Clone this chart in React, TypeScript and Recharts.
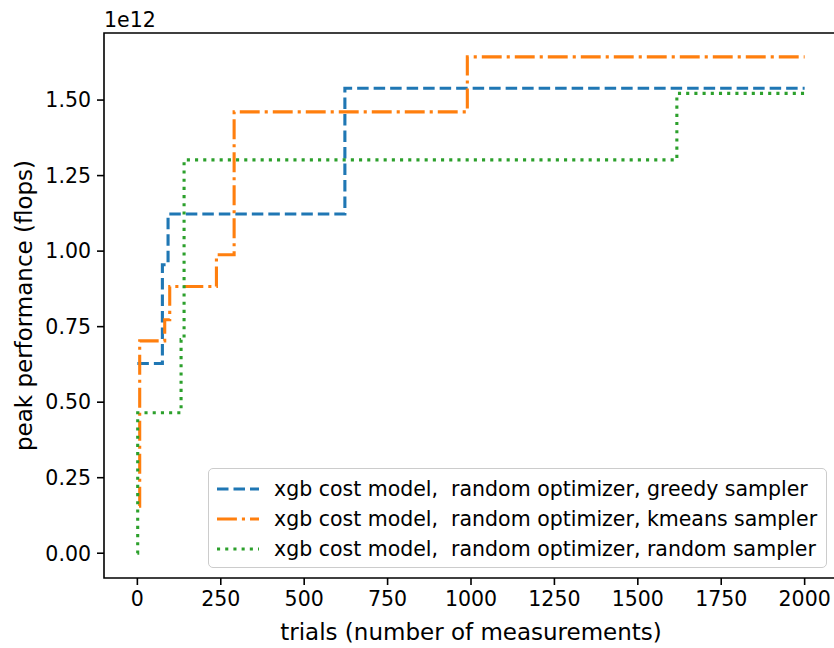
import React from 'react';
import { LineChart, Line, XAxis, YAxis, Legend, Label, ReferenceArea } from 'recharts';

// values, peak performance in units of 1e12 flops
const trialsGreedy = [0, 75, 92, 622, 2000];
const peakGreedy = [0.628, 0.955, 1.123, 1.539, 1.539];

const trialsKmeans = [5, 7, 82, 97, 237, 290, 989, 2000];
const peakKmeans = [0.156, 0.703, 0.773, 0.883, 0.988, 1.461, 1.643, 1.643];

const trialsRandom = [0, 1, 131, 140, 1617, 2000];
const peakRandom = [0, 0.465, 0.707, 1.302, 1.522, 1.522];

const xTicks = [0, 250, 500, 750, 1000, 1250, 1500, 1750, 2000];
const yTicks = [0, 0.25, 0.5, 0.75, 1.0, 1.25, 1.5];

const seriesNames = [
  'xgb cost model,  random optimizer, greedy sampler',
  'xgb cost model,  random optimizer, kmeans sampler',
  'xgb cost model,  random optimizer, random sampler',
];

const toPoints = (xs: number[], ys: number[]) => xs.map((x, i) => ({ x, y: ys[i] }));

const FONT = '"DejaVu Sans", sans-serif';
const LW = 3.1;
const CHART_W = 840;
const MARGIN = { top: 33, right: 2, bottom: 0, left: 0 };
const Y_AXIS_W = 104;

const series = [
  { name: seriesNames[0], data: toPoints(trialsGreedy, peakGreedy), color: '#1f77b4', dash: '11.5 5' },
  { name: seriesNames[1], data: toPoints(trialsKmeans, peakKmeans), color: '#ff7f0e', dash: '19.9 5 3.1 5' },
  { name: seriesNames[2], data: toPoints(trialsRandom, peakRandom), color: '#2ca02c', dash: '3.1 5.1' },
];

const X_DOMAIN: [number, number] = [-100, 2100];
const Y_DOMAIN: [number, number] = [-0.082, 1.722];

const renderLegend = () => (
  <div
    style={{
      boxSizing: 'border-box',
      width: 619,
      height: 100,
      padding: '5px 0',
      border: '1.5px solid #cccccc',
      borderRadius: 5,
      background: 'rgba(255,255,255,0.8)',
      fontFamily: FONT,
      fontSize: 20.5,
      color: '#000',
    }}
  >
    {series.map((s) => (
      <div key={s.name} style={{ height: 30, display: 'flex', alignItems: 'center' }}>
        <svg width={42} height={10} style={{ marginLeft: 8, marginRight: 15 }}>
          <line x1={0} y1={5} x2={42} y2={5} stroke={s.color} strokeWidth={LW} strokeDasharray={s.dash} />
        </svg>
        <span style={{ whiteSpace: 'pre', lineHeight: '30px' }}>{s.name}</span>
      </div>
    ))}
  </div>
);

export default function App() {
  // horizontal centre of the plotting area
  const plotCenterX = (MARGIN.left + Y_AXIS_W + CHART_W - MARGIN.right) / 2;

  return (
    <div style={{ position: 'absolute', left: 0, top: 0, width: 834, height: 648, overflow: 'hidden', background: '#fff' }}>
      <LineChart width={CHART_W} height={648} margin={MARGIN}>
        <XAxis
          type="number"
          dataKey="x"
          domain={X_DOMAIN}
          allowDataOverflow
          ticks={xTicks}
          interval={0}
          height={70}
          axisLine={false}
          tickSize={7}
          tickMargin={6}
          tickLine={{ stroke: '#000', strokeWidth: 1.6 }}
          tick={{ fill: '#000', fontSize: 20.5, fontFamily: FONT }}
        >
          <Label
            content={({ viewBox }: any) => (
              <text
                x={plotCenterX}
                y={viewBox.y + viewBox.height - 8}
                textAnchor="middle"
                fontFamily={FONT}
                fontSize={23}
                fill="#000"
              >
                trials (number of measurements)
              </text>
            )}
          />
        </XAxis>
        <YAxis
          type="number"
          domain={Y_DOMAIN}
          allowDataOverflow
          ticks={yTicks}
          interval={0}
          width={Y_AXIS_W}
          axisLine={false}
          tickSize={7}
          tickMargin={6}
          tickLine={{ stroke: '#000', strokeWidth: 1.6 }}
          tick={{ fill: '#000', fontSize: 20.5, fontFamily: FONT }}
          tickFormatter={(v: number) => v.toFixed(2)}
        >
          <Label
            content={({ viewBox }: any) => {
              const cx = 24;
              const cy = viewBox.y + viewBox.height / 2;
              return (
                <text
                  x={cx}
                  y={cy}
                  transform={`rotate(-90 ${cx} ${cy})`}
                  textAnchor="middle"
                  dominantBaseline="central"
                  fontFamily={FONT}
                  fontSize={23}
                  fill="#000"
                >
                  peak performance (flops)
                </text>
              );
            }}
          />
          <Label
            content={({ viewBox }: any) => (
              <text x={viewBox.x + viewBox.width} y={viewBox.y - 6} fontFamily={FONT} fontSize={20.5} fill="#000">
                1e12
              </text>
            )}
          />
        </YAxis>
        <ReferenceArea
          x1={X_DOMAIN[0]}
          x2={X_DOMAIN[1]}
          y1={Y_DOMAIN[0]}
          y2={Y_DOMAIN[1]}
          fill="none"
          stroke="#000"
          strokeWidth={1.6}
        />
        {series.map((s) => (
          <Line
            key={s.name}
            data={s.data}
            dataKey="y"
            name={s.name}
            type="stepAfter"
            stroke={s.color}
            strokeWidth={LW}
            strokeDasharray={s.dash}
            dot={false}
            activeDot={false}
            isAnimationActive={false}
          />
        ))}
        <Legend
          layout="vertical"
          align="center"
          verticalAlign="middle"
          content={renderLegend}
          wrapperStyle={{ left: 208, top: 468, width: 619, height: 100 }}
        />
      </LineChart>
    </div>
  );
}
